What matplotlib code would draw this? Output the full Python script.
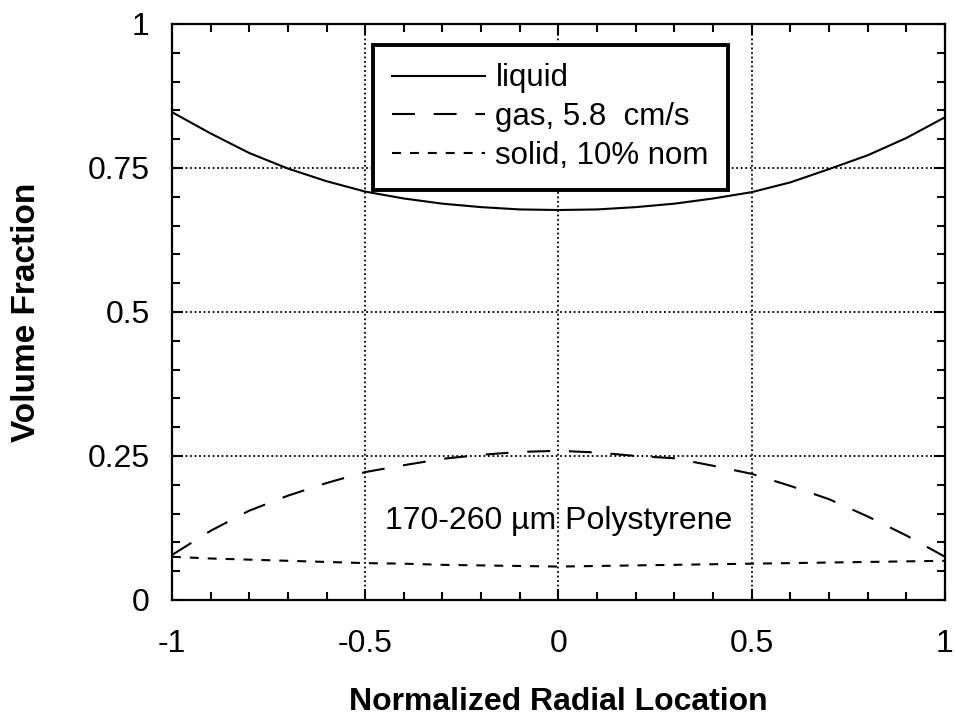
import matplotlib
matplotlib.use("Agg")
import matplotlib.pyplot as plt
from matplotlib.ticker import MultipleLocator, FixedLocator

plt.rcParams['font.family'] = ['Liberation Sans', 'DejaVu Sans']

x = [-1.0, -0.9, -0.8, -0.7, -0.6, -0.5, -0.4, -0.3, -0.2, -0.1, 0.0,
     0.1, 0.2, 0.3, 0.4, 0.5, 0.6, 0.7, 0.8, 0.9, 1.0]
liquid = [0.847, 0.810, 0.776, 0.749, 0.727, 0.709, 0.697, 0.688, 0.682, 0.678, 0.677,
          0.678, 0.682, 0.688, 0.697, 0.708, 0.725, 0.748, 0.772, 0.802, 0.838]
gas = [0.078, 0.120, 0.155, 0.181, 0.203, 0.222, 0.234, 0.245, 0.252, 0.257, 0.259,
       0.256, 0.250, 0.246, 0.233, 0.219, 0.198, 0.175, 0.145, 0.112, 0.075]
solid = [0.075, 0.072, 0.070, 0.068, 0.066, 0.064, 0.063, 0.061, 0.060, 0.059, 0.058,
         0.059, 0.060, 0.061, 0.062, 0.063, 0.064, 0.065, 0.066, 0.067, 0.068]

series_labels = ["liquid", "gas, 5.8  cm/s", "solid, 10% nom"]
xticks = [-1, -0.5, 0, 0.5, 1]
xticklabels = ["-1", "-0.5", "0", "0.5", "1"]
yticks = [0, 0.25, 0.5, 0.75, 1]
yticklabels = ["0", "0.25", "0.5", "0.75", "1"]
annotation = "170-260 µm Polystyrene"

fig = plt.figure(figsize=(9.55, 7.26), dpi=100)
ax = fig.add_axes([0.180, 0.1736, 0.8095, 0.7934])

lw = 1.5
ax.plot(x, liquid, color='black', lw=lw, linestyle='-', label=series_labels[0])
ax.plot(x, gas, color='black', lw=lw, linestyle=(0, (11, 9)), label=series_labels[1])
ax.plot(x, solid, color='black', lw=lw, linestyle=(0, (4.3, 4.3)), label=series_labels[2])

ax.set_xlim(-1, 1)
ax.set_ylim(0, 1)
ax.xaxis.set_major_locator(FixedLocator(xticks))
ax.yaxis.set_major_locator(FixedLocator(yticks))
ax.set_xticklabels(xticklabels)
ax.set_yticklabels(yticklabels)
ax.xaxis.set_minor_locator(MultipleLocator(0.1))
ax.yaxis.set_minor_locator(MultipleLocator(0.05))
ax.tick_params(which='both', direction='in', top=True, right=True, width=1.5, labelsize=23)
ax.tick_params(which='major', length=8)
ax.tick_params(which='minor', length=6)
ax.tick_params(axis='x', which='major', pad=21)
ax.tick_params(axis='y', which='major', pad=16)

ax.grid(True, which='major', linestyle=(0, (1, 1.5)), color='black', lw=1.3)
for s in ax.spines.values():
    s.set_linewidth(1.6)

ax.set_xlabel("Normalized Radial Location", fontsize=23, fontweight='bold', labelpad=20)
ax.set_ylabel("Volume Fraction", fontsize=24, fontweight='bold', labelpad=33)

ax.text(0, 0.137, annotation, ha='center', va='center', fontsize=23)

leg = ax.legend(loc='upper left', bbox_to_anchor=(0.26, 0.964), fontsize=22.5,
                frameon=True, fancybox=False, framealpha=1, edgecolor='black',
                handlelength=3.0, handletextpad=0.32, borderpad=0.6, labelspacing=0.28,
                borderaxespad=0)
leg.get_frame().set_linewidth(2.8)

fig.savefig("out.png", dpi=100)
